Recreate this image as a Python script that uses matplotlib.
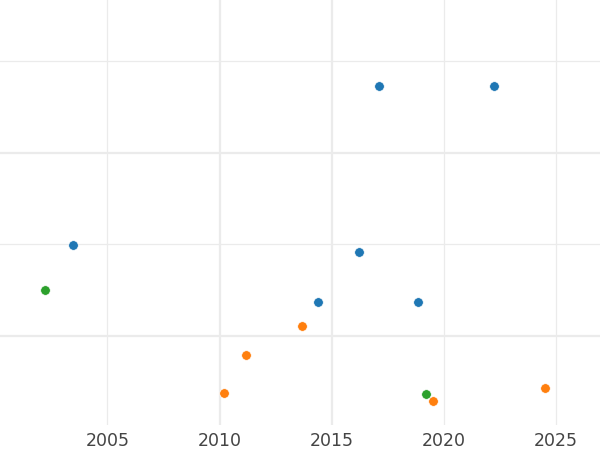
import matplotlib
matplotlib.use("Agg")
import matplotlib.pyplot as plt

# Data
blue_x = [2003.47, 2014.38, 2016.22, 2017.12, 2018.85, 2022.24]
blue_y = [1.495, 1.185, 1.46, 2.366, 1.185, 2.366]
orange_x = [2010.21, 2011.19, 2013.69, 2019.49, 2024.5]
orange_y = [0.691, 0.896, 1.056, 0.647, 0.716]
green_x = [2002.21, 2019.2]
green_y = [1.249, 0.682]

xticks = [2005, 2010, 2015, 2020, 2025]
thick_x = [2010, 2015]
thin_x = [2005, 2020, 2025]
thick_y = [1.0, 2.0]
thin_y = [1.5, 2.5]

fig = plt.figure(figsize=(6, 4.5), dpi=100)
ax = fig.add_axes([0, 1 - 425 / 450, 1, 425 / 450])
ax.set_xlim(2000.22, 2026.95)
ax.set_ylim(0.514, 2.835)

gc = "#ebebeb"
for x in thick_x:
    ax.axvline(x, color=gc, lw=1.6, zorder=0)
for x in thin_x:
    ax.axvline(x, color=gc, lw=0.9, zorder=0)
for y in thick_y:
    ax.axhline(y, color=gc, lw=1.6, zorder=0)
for y in thin_y:
    ax.axhline(y, color=gc, lw=0.9, zorder=0)

kw = dict(s=48, edgecolors="white", linewidths=0.5, zorder=3)
ax.scatter(blue_x, blue_y, color="#1f77b4", **kw)
ax.scatter(orange_x, orange_y, color="#ff7f0e", **kw)
ax.scatter(green_x, green_y, color="#2ca02c", **kw)

ax.set_xticks(xticks)
ax.set_xticklabels([str(t) for t in xticks])
ax.set_yticks([])
ax.tick_params(axis="x", length=0, pad=5, labelsize=12.5, labelcolor="#444444")
for s in ax.spines.values():
    s.set_visible(False)

fig.savefig("out.png", dpi=100)
